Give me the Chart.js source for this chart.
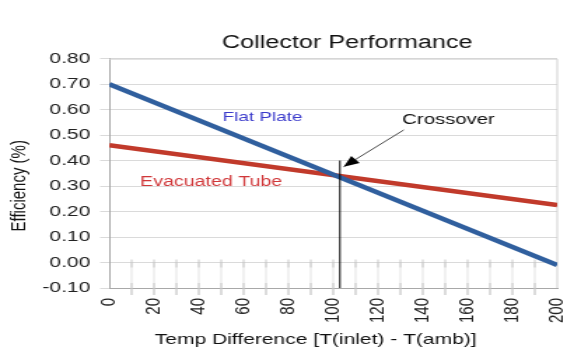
<!DOCTYPE html>
<html>
<head>
<meta charset="utf-8">
<script src="https://cdn.jsdelivr.net/npm/chart.js@4.4.1/dist/chart.umd.min.js"></script>
<style>
  html, body { margin: 0; padding: 0; background: #fff; overflow: hidden; }
  /* the source picture is stretched sideways, so draw narrow and widen it */
  #wrap { width: 403px; height: 349px; transform: scaleX(1.4); transform-origin: 0 0; }
</style>
</head>
<body>
<div id="wrap"><canvas id="perfChart"></canvas></div>
<script>
// temperature difference end points
var tempDiff = [0, 200];
// efficiency values
var flatPlate = [0.70, -0.01];
var evacTube = [0.46, 0.225];
var yTicks = [-0.10, 0.80, 0.10];
var crossoverX = 103;

var FONT = '"Liberation Sans", Arial, sans-serif';

function toPoints(xs, ys) {
    return xs.map(function(x, i) { return { x: x, y: ys[i] }; });
}

// labels, crossover line and arrow drawn with the scales
var notesPlugin = {
    id: 'notes',
    afterDatasetsDraw: function(chart) {
        var ctx = chart.ctx;
        var xs = chart.scales.x, ys = chart.scales.y;
        var area = chart.chartArea;
        ctx.save();

        // faint tick marks from the zero line down past the bottom axis
        var y0 = ys.getPixelForValue(0);
        ctx.lineWidth = 0.8;
        for (var t = 10; t < 200; t += 10) {
            var px = xs.getPixelForValue(t);
            ctx.strokeStyle = '#dcdcdc';
            ctx.beginPath();
            ctx.moveTo(px, y0); ctx.lineTo(px, area.bottom + 7);
            ctx.stroke();
            ctx.strokeStyle = '#bdbdbd';
            ctx.beginPath();
            ctx.moveTo(px, y0 - 3); ctx.lineTo(px, y0 + 5);
            ctx.moveTo(px, area.bottom - 5); ctx.lineTo(px, area.bottom + 7);
            ctx.stroke();
        }

        // crossover vertical line
        var cx = xs.getPixelForValue(crossoverX);
        ctx.strokeStyle = '#000';
        ctx.lineWidth = 1;
        ctx.beginPath();
        ctx.moveTo(cx, ys.getPixelForValue(0.40));
        ctx.lineTo(cx, area.bottom);
        ctx.stroke();

        // arrow
        var ax = xs.getPixelForValue(131.5), ay = ys.getPixelForValue(0.52);
        var bx = xs.getPixelForValue(104.7), by = ys.getPixelForValue(0.376);
        ctx.strokeStyle = '#333';
        ctx.lineWidth = 0.9;
        ctx.beginPath();
        ctx.moveTo(ax, ay); ctx.lineTo(bx, by);
        ctx.stroke();
        var ang = Math.atan2(by - ay, bx - ax);
        ctx.fillStyle = '#000';
        ctx.beginPath();
        ctx.moveTo(bx, by);
        ctx.lineTo(bx - 12 * Math.cos(ang - 0.4), by - 12 * Math.sin(ang - 0.4));
        ctx.lineTo(bx - 12 * Math.cos(ang + 0.4), by - 12 * Math.sin(ang + 0.4));
        ctx.closePath();
        ctx.fill();

        // text labels
        ctx.textAlign = 'center';
        ctx.textBaseline = 'middle';
        ctx.font = '13.5px ' + FONT;
        ctx.fillStyle = '#3a3acb';
        ctx.fillText('Flat Plate', xs.getPixelForValue(68.5), ys.getPixelForValue(0.57));
        ctx.font = '14px ' + FONT;
        ctx.fillStyle = '#d0383a';
        ctx.fillText('Evacuated Tube', xs.getPixelForValue(45.5), ys.getPixelForValue(0.317));
        ctx.font = '14.5px ' + FONT;
        ctx.fillStyle = '#111';
        ctx.fillText('Crossover', xs.getPixelForValue(151.5), ys.getPixelForValue(0.56));
        ctx.restore();
    }
};

var framePlugin = {
    id: 'frame',
    beforeDatasetsDraw: function(chart) {
        var a = chart.chartArea, c = chart.ctx;
        c.save();
        c.strokeStyle = '#d0d0d0';
        c.lineWidth = 1;
        c.beginPath();
        c.moveTo(a.left, a.top + 0.5); c.lineTo(a.right, a.top + 0.5);
        c.lineTo(a.right, a.bottom);
        c.stroke();
        c.restore();
    }
};

var ctx = document.getElementById('perfChart');
var perfChart = new Chart(ctx, {
    type: 'line',
    data: {
        datasets: [{
            label: 'Flat Plate',
            data: toPoints(tempDiff, flatPlate),
            borderColor: '#305f9e',
            borderWidth: 4.5,
            pointRadius: 0
        }, {
            label: 'Evacuated Tube',
            data: toPoints(tempDiff, evacTube),
            borderColor: '#c13a2b',
            borderWidth: 4.5,
            pointRadius: 0
        }]
    },
    options: {
        responsive: true,
        maintainAspectRatio: false,
        animation: false,
        devicePixelRatio: 1,
        layout: { padding: { left: 4, right: 5, top: 0, bottom: 0 } },
        plugins: {
            legend: { display: false },
            tooltip: { enabled: false },
            title: {
                display: true,
                fullSize: false,
                // leading spaces nudge it right like the original
                text: '    Collector Performance',
                color: '#111',
                font: { family: FONT, size: 18, weight: 'normal' },
                padding: { top: 32, bottom: 5 }
            }
        },
        scales: {
            x: {
                type: 'linear',
                min: tempDiff[0],
                max: tempDiff[1],
                afterFit: function(s) {
                    s.height = 61;
                    s.paddingLeft = 0;
                    s.paddingRight = 0;
                },
                ticks: {
                    stepSize: 20,
                    minRotation: 90,
                    maxRotation: 90,
                    padding: 10,
                    color: '#222',
                    font: { family: FONT, size: 15 }
                },
                grid: { drawOnChartArea: false, drawTicks: false },
                border: { color: '#a8a8a8' },
                title: {
                    display: true,
                    text: 'Temp Difference [T(inlet) - T(amb)]      ',
                    color: '#111',
                    font: { family: FONT, size: 15 },
                    padding: { top: 0, bottom: 0 }
                }
            },
            y: {
                min: yTicks[0],
                max: yTicks[1],
                afterFit: function(s) { s.width = 74; },
                ticks: {
                    stepSize: yTicks[2],
                    padding: 7,
                    color: '#222',
                    font: { family: FONT, size: 15 },
                    callback: function(v) { return v.toFixed(2); }
                },
                grid: { color: '#dadada', tickLength: 6.5, tickColor: '#dadada' },
                border: { color: '#a8a8a8' },
                title: {
                    display: true,
                    text: 'Efficiency (%)      ',
                    color: '#111',
                    font: { family: FONT, size: 15 },
                    padding: { top: 1, bottom: 0 }
                }
            }
        }
    },
    plugins: [notesPlugin, framePlugin]
});
</script>
</body>
</html>
